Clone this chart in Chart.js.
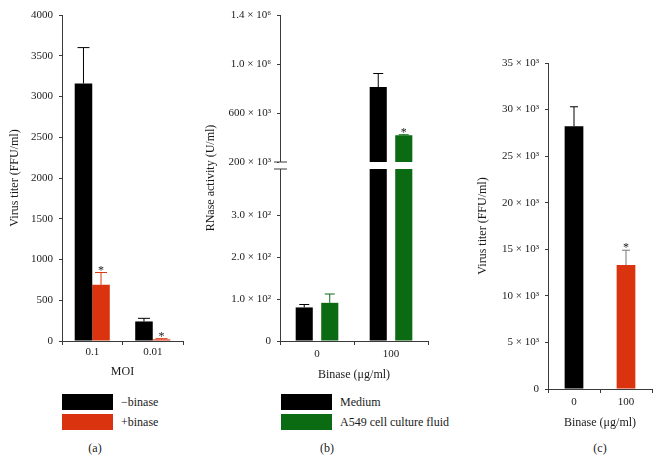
<!DOCTYPE html>
<html>
<head>
<meta charset="utf-8">
<script src="https://cdn.jsdelivr.net/npm/chart.js@4.4.0/dist/chart.umd.min.js"></script>
<style>
  body { margin: 0; background: #fff; width: 661px; height: 474px; position: relative; overflow: hidden;
         font-family: "Liberation Serif", serif; color: #1a1a1a; }
  canvas { position: absolute; top: 0; }
  .legend { position: absolute; top: 392px; font-size: 12px; }
  .item { display: flex; align-items: center; height: 20px; }
  .sw { width: 51px; height: 16px; margin-right: 8px; }
  .tag { position: absolute; top: 441px; font-size: 12px; transform: translateX(-50%); }
</style>
</head>
<body>
<canvas id="chartA" width="190" height="385" style="left:0"></canvas>
<canvas id="chartB" width="250" height="385" style="left:190px"></canvas>
<canvas id="chartC" width="206" height="435" style="left:455px"></canvas>
<div class="legend" id="legendA" style="left:62px"></div>
<div class="legend" id="legendB" style="left:281px"></div>
<div class="tag" style="left:95px">(a)</div>
<div class="tag" style="left:327px">(b)</div>
<div class="tag" style="left:600px">(c)</div>

<script>
// (a) virus titer vs MOI
const moiLabels = ['0.1', '0.01'];
const minusBinase = [3160, 240];
const minusBinaseErr = [440, 38];
const plusBinase = [690, 20];
const plusBinaseErr = [150, 8];

// (b) RNase activity
const doseLabels = ['0', '100'];
const mediumValues = [80, 814000];
const mediumErr = [7, 110000];
const fluidValues = [91, 421000];
const fluidErr = [21, 5000];
const rnaseTicks = [0, 100, 200, 300, 200000, 600000, 1000000, 1400000];
const rnaseTickLabels = ['0', '1.0 × 10²', '2.0 × 10²', '3.0 × 10²', '200 × 10³', '600 × 10³', '1.0 × 10⁶', '1.4 × 10⁶'];

// (c) virus titer vs binase
const titerValues = [28200, 13300];
const titerErr = [2100, 1600];
const titerTicks = [0, 5000, 10000, 15000, 20000, 25000, 30000, 35000];
const titerTickLabels = ['0', '5 × 10³', '10 × 10³', '15 × 10³', '20 × 10³', '25 × 10³', '30 × 10³', '35 × 10³'];

const BLACK = '#000000';
const RED = '#d9340f';
const GREEN = '#0b6b12';
const AXIS = '#3a3a3a';
const TEXT = '#1a1a1a';
const tickFont = { family: 'Liberation Serif', size: 11 };
const titleFont = { family: 'Liberation Serif', size: 12 };

// linear scale with a gap between two value ranges
class BrokenScale extends Chart.LinearScale {
  getPixelForValue(value) {
    const b = this.options.brk;
    let d;
    if (value <= b.low) d = value / b.low * b.lowPos;
    else if (value >= b.high) d = b.highPos + (value - b.high) / (this.max - b.high) * (1 - b.highPos);
    else d = b.lowPos + (value - b.low) / (b.high - b.low) * (b.highPos - b.lowPos);
    return this.getPixelForDecimal(d);
  }
}
BrokenScale.id = 'broken';
BrokenScale.defaults = {};
Chart.register(BrokenScale);

// one sided error bars + significance stars
const errorBars = {
  id: 'errorBars',
  afterDatasetsDraw(chart, args, opts) {
    const ctx = chart.ctx;
    const yScale = chart.scales.y;
    chart.data.datasets.forEach((ds, i) => {
      const meta = chart.getDatasetMeta(i);
      meta.data.forEach((bar, j) => {
        const top = yScale.getPixelForValue(ds.data[j] + ds.errors[j]);
        ctx.save();
        ctx.strokeStyle = ds.errorColor[j];
        ctx.lineWidth = 1;
        ctx.beginPath();
        ctx.moveTo(bar.x, bar.y);
        ctx.lineTo(bar.x, top);
        ctx.moveTo(bar.x - opts.cap, top);
        ctx.lineTo(bar.x + opts.cap, top);
        ctx.stroke();
        if (ds.stars && ds.stars[j]) {
          ctx.fillStyle = TEXT;
          ctx.font = '12px "Liberation Serif"';
          ctx.textAlign = 'center';
          ctx.textBaseline = 'alphabetic';
          ctx.fillText('*', bar.x, top + 1);
        }
        ctx.restore();
      });
    });
  }
};

// white gap and break marks for chart (b)
const axisBreak = {
  id: 'axisBreak',
  afterDatasetsDraw(chart) {
    const y = chart.scales.y, b = y.options.brk;
    const top = y.getPixelForValue(b.high) - 0.5;
    const bottom = y.getPixelForValue(b.low);
    const ctx = chart.ctx, left = chart.chartArea.left;
    ctx.save();
    ctx.fillStyle = '#fff';
    ctx.fillRect(left - 1, top, chart.chartArea.right - left + 1, bottom - top);
    ctx.strokeStyle = AXIS;
    ctx.lineWidth = 1;
    [top, bottom].forEach(py => {
      ctx.beginPath();
      ctx.moveTo(left - 6, py);
      ctx.lineTo(left + 7, py);
      ctx.stroke();
    });
    ctx.restore();
  }
};

function xAxis(title, height, titlePad, tickPad) {
  return {
    grid: { display: true, drawOnChartArea: false, tickLength: 4, color: AXIS, offset: true },
    border: { color: AXIS },
    ticks: { font: tickFont, color: TEXT, padding: tickPad },
    title: { display: true, text: title, font: titleFont, color: TEXT, padding: { top: 0, bottom: titlePad } },
    afterFit: s => { s.height = height; }
  };
}

function yAxis(title, width, titlePad) {
  return {
    grid: { display: true, drawOnChartArea: false, tickLength: 3, color: AXIS },
    border: { color: AXIS },
    ticks: { font: tickFont, color: TEXT, padding: 6, autoSkip: false },
    title: { display: true, text: title, font: titleFont, color: TEXT, padding: { top: titlePad, bottom: 0 } },
    afterFit: s => { s.width = width; }
  };
}

// (a)
const yA = yAxis('Virus titer (FFU/ml)', 62, 8);
yA.min = 0; yA.max = 4000; yA.ticks.stepSize = 500;
yA.ticks.callback = v => String(v);
new Chart(document.getElementById('chartA'), {
  type: 'bar',
  data: {
    labels: moiLabels,
    datasets: [
      { label: '−binase', data: minusBinase, errors: minusBinaseErr, backgroundColor: BLACK, errorColor: [BLACK, BLACK] },
      { label: '+binase', data: plusBinase, errors: plusBinaseErr, backgroundColor: RED, errorColor: [RED, RED], stars: [true, true] }
    ]
  },
  options: {
    responsive: false, animation: false, events: [],
    layout: { padding: { top: 15, right: 7 } },
    datasets: { bar: { categoryPercentage: 0.58, barPercentage: 1 } },
    plugins: { legend: { display: false }, tooltip: { enabled: false }, errorBars: { cap: 6 } },
    scales: { x: xAxis('MOI', 44, 6, 1), y: yA }
  },
  plugins: [errorBars]
});

// (b)
const yB = yAxis('RNase activity (U/ml)', 90, 14);
yB.type = 'broken';
yB.min = 0; yB.max = 1400000;
yB.brk = { low: 410, lowPos: 0.5276, high: 200000, highPos: 0.5475 };
yB.afterBuildTicks = s => { s.ticks = rnaseTicks.map(v => ({ value: v })); };
yB.ticks.callback = (v, i) => rnaseTickLabels[i];
new Chart(document.getElementById('chartB'), {
  type: 'bar',
  data: {
    labels: doseLabels,
    datasets: [
      { label: 'Medium', data: mediumValues, errors: mediumErr, backgroundColor: BLACK, errorColor: [BLACK, BLACK] },
      { label: 'A549 cell culture fluid', data: fluidValues, errors: fluidErr, backgroundColor: GREEN, errorColor: [GREEN, GREEN], stars: [false, true] }
    ]
  },
  options: {
    responsive: false, animation: false, events: [],
    layout: { padding: { top: 15, right: 12 } },
    datasets: { bar: { categoryPercentage: 0.69, barPercentage: 0.67 } },
    plugins: { legend: { display: false }, tooltip: { enabled: false }, errorBars: { cap: 5 } },
    scales: { x: xAxis('Binase (μg/ml)', 44, 3, 3), y: yB }
  },
  plugins: [errorBars, axisBreak]
});

// (c)
const yC = yAxis('Virus titer (FFU/ml)', 93, 21);
yC.min = 0; yC.max = 35000;
yC.afterBuildTicks = s => { s.ticks = titerTicks.map(v => ({ value: v })); };
yC.ticks.callback = (v, i) => titerTickLabels[i];
new Chart(document.getElementById('chartC'), {
  type: 'bar',
  data: {
    labels: doseLabels,
    datasets: [
      { label: 'Virus titer', data: titerValues, errors: titerErr, backgroundColor: [BLACK, RED], errorColor: [BLACK, '#777777'], stars: [false, true] }
    ]
  },
  options: {
    responsive: false, animation: false, events: [],
    layout: { padding: { top: 63, right: 9 } },
    datasets: { bar: { categoryPercentage: 1, barPercentage: 0.36 } },
    plugins: { legend: { display: false }, tooltip: { enabled: false }, errorBars: { cap: 4 } },
    scales: { x: xAxis('Binase (μg/ml)', 46, 5, 3), y: yC }
  },
  plugins: [errorBars]
});

// legends from the dataset names/colours
function buildLegend(id, names, colors) {
  const box = document.getElementById(id);
  names.forEach((name, i) => {
    const row = document.createElement('div');
    row.className = 'item';
    row.innerHTML = '<span class="sw" style="background:' + colors[i] + '"></span><span>' + name + '</span>';
    box.appendChild(row);
  });
}
buildLegend('legendA', ['−binase', '+binase'], [BLACK, RED]);
buildLegend('legendB', ['Medium', 'A549 cell culture fluid'], [BLACK, GREEN]);
</script>
</body>
</html>
